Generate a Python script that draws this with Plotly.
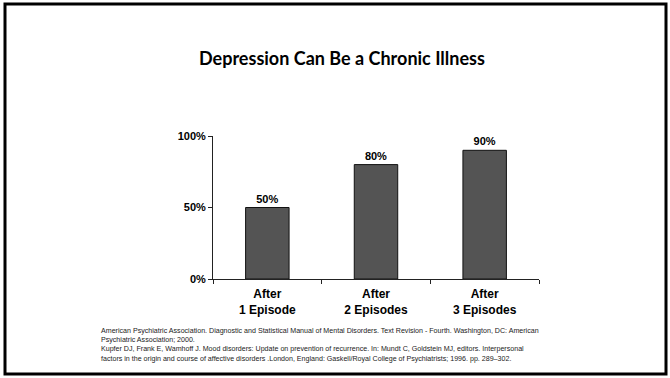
import plotly.graph_objects as go

categories = ["After<br>1 Episode", "After<br>2 Episodes", "After<br>3 Episodes"]
values = [50, 80, 90]
value_labels = ["50%", "80%", "90%"]
y_ticks = [0, 50, 100]
y_tick_labels = ["0%", "50%", "100%"]
title_text = "Depression Can Be a Chronic Illness"
footnote_lines = [
    "American Psychiatric Association. Diagnostic and Statistical Manual of Mental Disorders. Text Revision - Fourth. Washington, DC: American",
    "Psychiatric Association; 2000.",
    "Kupfer DJ, Frank E, Wamhoff J. Mood disorders: Update on prevention of recurrence. In: Mundt C, Goldstein MJ, editors. Interpersonal",
    "factors in the origin and course of affective disorders .London, England: Gaskell/Royal College of Psychiatrists; 1996. pp. 289\u2013302.",
]

W, H = 670, 378
L, R, T, B = 213, 131, 136, 99
pw, ph = W - L - R, H - T - B

def px_x(p):
    return (p - L) / pw

def px_y(p):
    return (H - B - p) / ph

fig = go.Figure()
fig.add_trace(go.Bar(
    x=categories, y=values, width=0.4,
    marker=dict(color="#545454", line=dict(color="#111111", width=1)),
    text=value_labels, textposition="outside", cliponaxis=False,
    texttemplate="<b>%{text}</b>",
    textfont=dict(family="Liberation Sans, Arial", size=11, color="black"),
))

fig.update_layout(
    width=W, height=H,
    margin=dict(l=L, r=R, t=T, b=B),
    paper_bgcolor="white", plot_bgcolor="white",
    showlegend=False,
    font=dict(family="Liberation Sans, Arial", color="black"),
)
fig.update_xaxes(
    type="category", range=[-0.5, 2.5],
    tickvals=categories, ticktext=["<b>%s</b>" % c for c in categories],
    showline=True, linecolor="#222222", linewidth=1,
    ticks="outside", tickson="boundaries", ticklen=4, tickcolor="#222222",
    ticklabelstandoff=4,
    tickfont=dict(family="Liberation Sans, Arial", size=12, color="black"),
    showgrid=False, zeroline=False,
)
fig.update_yaxes(
    range=[0, 100], tickvals=y_ticks, ticktext=["<b>%s</b>" % t for t in y_tick_labels],
    showline=True, linecolor="#222222", linewidth=1,
    ticks="outside", ticklen=4, tickcolor="#222222",
    tickfont=dict(family="Liberation Sans, Arial", size=11, color="black"),
    showgrid=False, zeroline=False,
)

fig.add_annotation(
    text="<b>%s</b>" % title_text, xref="paper", yref="paper",
    x=px_x(342), y=px_y(58), xanchor="center", yanchor="middle",
    showarrow=False, font=dict(family="Lato", size=18, color="black"),
)
fig.add_annotation(
    text="<br>".join(footnote_lines), xref="paper", yref="paper",
    x=px_x(99), y=px_y(325), xanchor="left", yanchor="top", align="left",
    showarrow=False, font=dict(family="Liberation Sans, Arial", size=7.1, color="#222222"),
)
fig.add_shape(
    type="rect", xref="paper", yref="paper",
    x0=px_x(5), x1=px_x(666), y0=px_y(4), y1=px_y(374),
    line=dict(color="black", width=3), fillcolor="rgba(0,0,0,0)", layer="above",
)

fig.write_html("out.html")
